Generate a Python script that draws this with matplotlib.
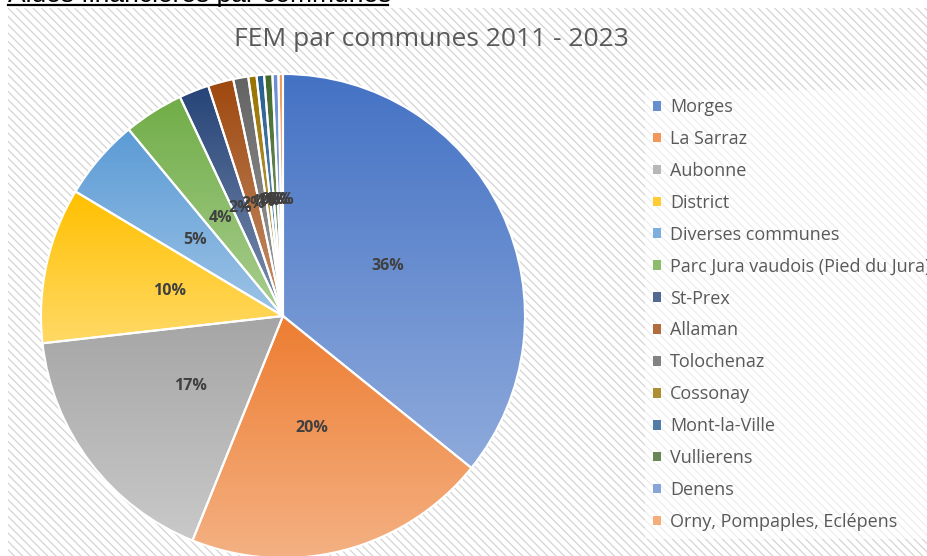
import numpy as np
import matplotlib
matplotlib.use("Agg")
import matplotlib.pyplot as plt
from matplotlib.colors import LinearSegmentedColormap, to_rgb
from matplotlib.patches import Patch, Rectangle

communes = ["Morges", "La Sarraz", "Aubonne", "District", "Diverses communes",
            "Parc Jura vaudois (Pied du Jura)", "St-Prex", "Allaman", "Tolochenaz",
            "Cossonay", "Mont-la-Ville", "Vullierens", "Denens",
            "Orny, Pompaples, Eclépens"]
shares = [35.8, 20.3, 17.1, 10.4, 5.4, 4.0, 2.0, 1.7, 1.0, 0.55, 0.5, 0.55, 0.4, 0.3]
colors = ["#4472C4", "#ED7D31", "#A5A5A5", "#FFC000", "#5B9BD5", "#70AD47",
          "#264478", "#9E480E", "#636363", "#997300", "#255E91", "#43682B",
          "#698ED0", "#F1975A"]
title = "FEM par communes 2011 - 2023"
caption = "Aides financières par communes"

W, H = 927, 556
fig = plt.figure(figsize=(W / 100, H / 100), dpi=100)
fig.patch.set_facecolor("white")

# hatched chart area background
plt.rcParams["hatch.linewidth"] = 0.9
bg = Rectangle((8 / W, 0), 1 - 8 / W, (H - 8) / H, transform=fig.transFigure,
               facecolor="white", edgecolor="#d4d4d4", hatch="\\\\\\\\",
               linewidth=0, zorder=0)
fig.add_artist(bg)

ax = fig.add_axes([0, 0, 1, 1])
ax.set_axis_off()


def lighter(c, t=0.4):
    r = np.array(to_rgb(c))
    return tuple(r * (1 - t) + t)


wedges, texts, autotexts = ax.pie(
    shares, colors=colors, startangle=90, counterclock=False,
    center=(283, H - 316), radius=242, autopct=lambda p: f"{p:.0f}%",
    pctdistance=0.48, frame=False,
    wedgeprops=dict(edgecolor="white", linewidth=1.5),
    textprops=dict(color="#404040", fontweight="bold", fontsize=11.5,
                   family=["Open Sans", "DejaVu Sans"]))

# per-slice vertical gradient (dark at top, lighter at bottom)
grad = np.linspace(1, 0, 256)[:, None]
for w, c in zip(wedges, colors):
    ext = w.get_path().get_extents()
    cmap = LinearSegmentedColormap.from_list("g", [to_rgb(c), lighter(c)])
    im = ax.imshow(grad, cmap=cmap, vmin=0, vmax=1, origin="lower",
                   extent=(ext.x0, ext.x1, ext.y0, ext.y1), aspect="auto",
                   zorder=1, interpolation="bilinear")
    im.set_clip_path(w)
    w.set_facecolor("none")
    w.set_zorder(2)
for t in autotexts:
    t.set_zorder(3)

ax.set_xlim(0, W)
ax.set_ylim(0, H)
ax.set_aspect("auto")

fig.text(431 / W, 1 - 40 / H, title, ha="center", va="center",
         color="#595959", fontsize=19, family=["Open Sans", "DejaVu Sans"])

# document caption (cut off at the top of the screenshot)
fig.text(8 / W, 1 - 2 / H, caption, ha="left", va="baseline",
         color="black", fontsize=19, family=["Liberation Sans", "DejaVu Sans"])
fig.add_artist(plt.Line2D([8 / W, 388 / W], [1 - 5 / H, 1 - 5 / H],
                          transform=fig.transFigure, color="black", lw=1.6))

handles = [Patch(facecolor=lighter(c, 0.2), edgecolor="none") for c in colors]
leg = ax.legend(handles, communes, loc="upper left",
                bbox_to_anchor=(645 / W, 1 - 90 / H),
                bbox_transform=fig.transFigure, borderaxespad=0,
                labelcolor="#595959", frameon=True,
                facecolor="white", framealpha=0.6, edgecolor="none",
                fancybox=False, handlelength=0.45, handleheight=0.45,
                handletextpad=0.5, labelspacing=0.77, borderpad=0.45,
                prop=dict(family=["Open Sans", "DejaVu Sans"], size=13))

fig.savefig("out.png", dpi=100)
